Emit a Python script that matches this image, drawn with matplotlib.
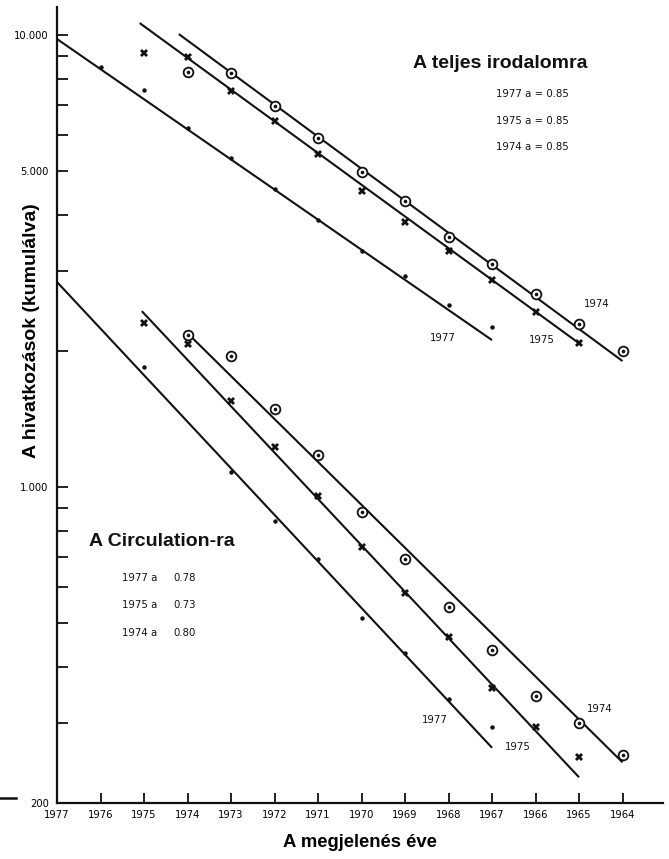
import matplotlib
matplotlib.use('Agg')
import matplotlib.pyplot as plt
from matplotlib.lines import Line2D
from matplotlib.ticker import FixedLocator, NullFormatter

plt.rcParams['font.family'] = ['Liberation Sans', 'DejaVu Sans']

# --- A teljes irodalomra (felso csoport)
ev_t77 = [1976, 1975, 1974, 1973, 1972, 1971, 1970, 1969, 1968, 1967]
ert_t77 = [8500, 7560, 6230, 5350, 4560, 3900, 3330, 2930, 2530, 2260]
ev_t75 = [1975, 1974, 1973, 1972, 1971, 1970, 1969, 1968, 1967, 1966, 1965]
ert_t75 = [9130, 8940, 7520, 6450, 5460, 4520, 3860, 3330, 2870, 2440, 2080]
ev_t74 = [1974, 1973, 1972, 1971, 1970, 1969, 1968, 1967, 1966, 1965, 1964]
ert_t74 = [8280, 8240, 6970, 5920, 4980, 4290, 3570, 3110, 2670, 2290, 2000]

# --- A Circulation-ra (also csoport)
ev_c77 = [1975, 1973, 1972, 1971, 1970, 1969, 1968, 1967]
ert_c77 = [1840, 1080, 841, 693, 513, 429, 340, 295]
ev_c75 = [1975, 1974, 1973, 1972, 1971, 1970, 1969, 1968, 1967, 1966, 1965]
ert_c75 = [2306, 2072, 1550, 1227, 955, 737, 583, 466, 359, 295, 253]
ev_c74 = [1974, 1973, 1972, 1971, 1970, 1969, 1968, 1967, 1966, 1965, 1964]
ert_c74 = [2170, 1950, 1488, 1178, 881, 693, 543, 436, 345, 301, 255]

# illesztett egyenesek vegpontjai (ev, ertek)
egy_t77 = ([1977, 1967], [9800, 2114])
egy_t75 = ([1975.1, 1965], [10630, 2080])
egy_t74 = ([1974.2, 1964], [10050, 1900])
egy_c77 = ([1977, 1967], [2842, 265])
egy_c75 = ([1975.05, 1965], [2450, 228])
egy_c74 = ([1974.0, 1964], [2190, 246])

evek = list(range(1977, 1963, -1))
y_fo = [200, 1000, 5000, 10000]
y_fo_cimke = ['200', '1.000', '5.000', '10.000']
y_mellek = [300, 400, 500, 600, 700, 800, 900, 2000, 3000, 4000, 6000, 7000, 8000, 9000]

fekete = '#111111'
kis = ['DejaVu Sans']

fig = plt.figure(figsize=(6.69, 8.59), dpi=100)
ax = fig.add_axes([57/669, 1-803/859, (663-57)/669, (803-7)/859])
ax.set_yscale('log')
ax.set_xlim(1977, 1963.07)
ax.set_ylim(200, 11536)

for xs, ys in [egy_t77, egy_t75, egy_t74, egy_c77, egy_c75, egy_c74]:
    ax.plot(xs, ys, color=fekete, lw=1.5, solid_capstyle='butt')

# pontok
for ev, ert in [(ev_t77, ert_t77), (ev_c77, ert_c77)]:
    ax.plot(ev, ert, ls='none', marker='o', ms=2.2, color=fekete)
for ev, ert in [(ev_t75, ert_t75), (ev_c75, ert_c75)]:
    ax.plot(ev, ert, ls='none', marker='X', ms=6, color=fekete, mew=0)
for ev, ert in [(ev_t74, ert_t74), (ev_c74, ert_c74)]:
    ax.plot(ev, ert, ls='none', marker='o', ms=7, mfc='white', mec=fekete, mew=1.3)
    ax.plot(ev, ert, ls='none', marker='o', ms=1.6, color=fekete)

for s in ['top', 'right']:
    ax.spines[s].set_visible(False)
for s in ['left', 'bottom']:
    ax.spines[s].set_linewidth(1.6)
    ax.spines[s].set_color(fekete)

ax.yaxis.set_major_locator(FixedLocator(y_fo))
ax.set_yticklabels(y_fo_cimke, family=kis)
ax.yaxis.set_minor_locator(FixedLocator(y_mellek))
ax.yaxis.set_minor_formatter(NullFormatter())
ax.tick_params(axis='y', which='both', direction='in', length=8, width=1.3,
               color=fekete, labelsize=7.2, pad=6)
ax.set_xticks(evek)
ax.set_xticklabels([str(e) for e in evek], family=kis)
ax.tick_params(axis='x', direction='in', length=7, width=1.3, color=fekete,
               labelsize=7.2, pad=5)
ax.xaxis.get_major_ticks()[0].tick1line.set_visible(False)

ax.set_xlabel('A megjelenés éve', fontsize=13.3, fontweight='bold', labelpad=10)
ax.set_ylabel('A hivatkozások (kumulálva)', fontsize=14, fontweight='bold')
ax.yaxis.set_label_coords(-0.028, 0.594)

# feliratok
fig.text(500/669, 1-63/859, 'A teljes irodalomra', ha='center', va='center',
         fontsize=14, fontweight='bold', color=fekete)
fig.text(162/669, 1-542/859, 'A Circulation-ra', ha='center', va='center',
         fontsize=14, fontweight='bold', color=fekete)

for i, s in enumerate(['1977 a = 0.85', '1975 a = 0.85', '1974 a = 0.85']):
    fig.text(496/669, 1-(94+26.5*i)/859, s, ha='left', va='center', fontsize=7.3,
             color=fekete, family=kis)
for i, (a, b) in enumerate([('1977 a', '0.78'), ('1975 a', '0.73'), ('1974 a', '0.80')]):
    fig.text(122/669, 1-(578+27.5*i)/859, a, ha='left', va='center', fontsize=7.3,
             color=fekete, family=kis)
    fig.text(173/669, 1-(578+27.5*i)/859, b, ha='left', va='center', fontsize=7.3,
             color=fekete, family=kis)

for x, y, s in [(443, 338, '1977'), (542, 340, '1975'), (597, 304, '1974'),
                (435, 720, '1977'), (518, 747, '1975'), (600, 709, '1974')]:
    fig.text(x/669, 1-y/859, s, ha='center', va='center', fontsize=7.3,
             color=fekete, family=kis)

fig.add_artist(Line2D([0, 16/669], [1-798/859, 1-798/859], lw=1.8, color=fekete))

fig.savefig('out.png', dpi=100, facecolor='white')
